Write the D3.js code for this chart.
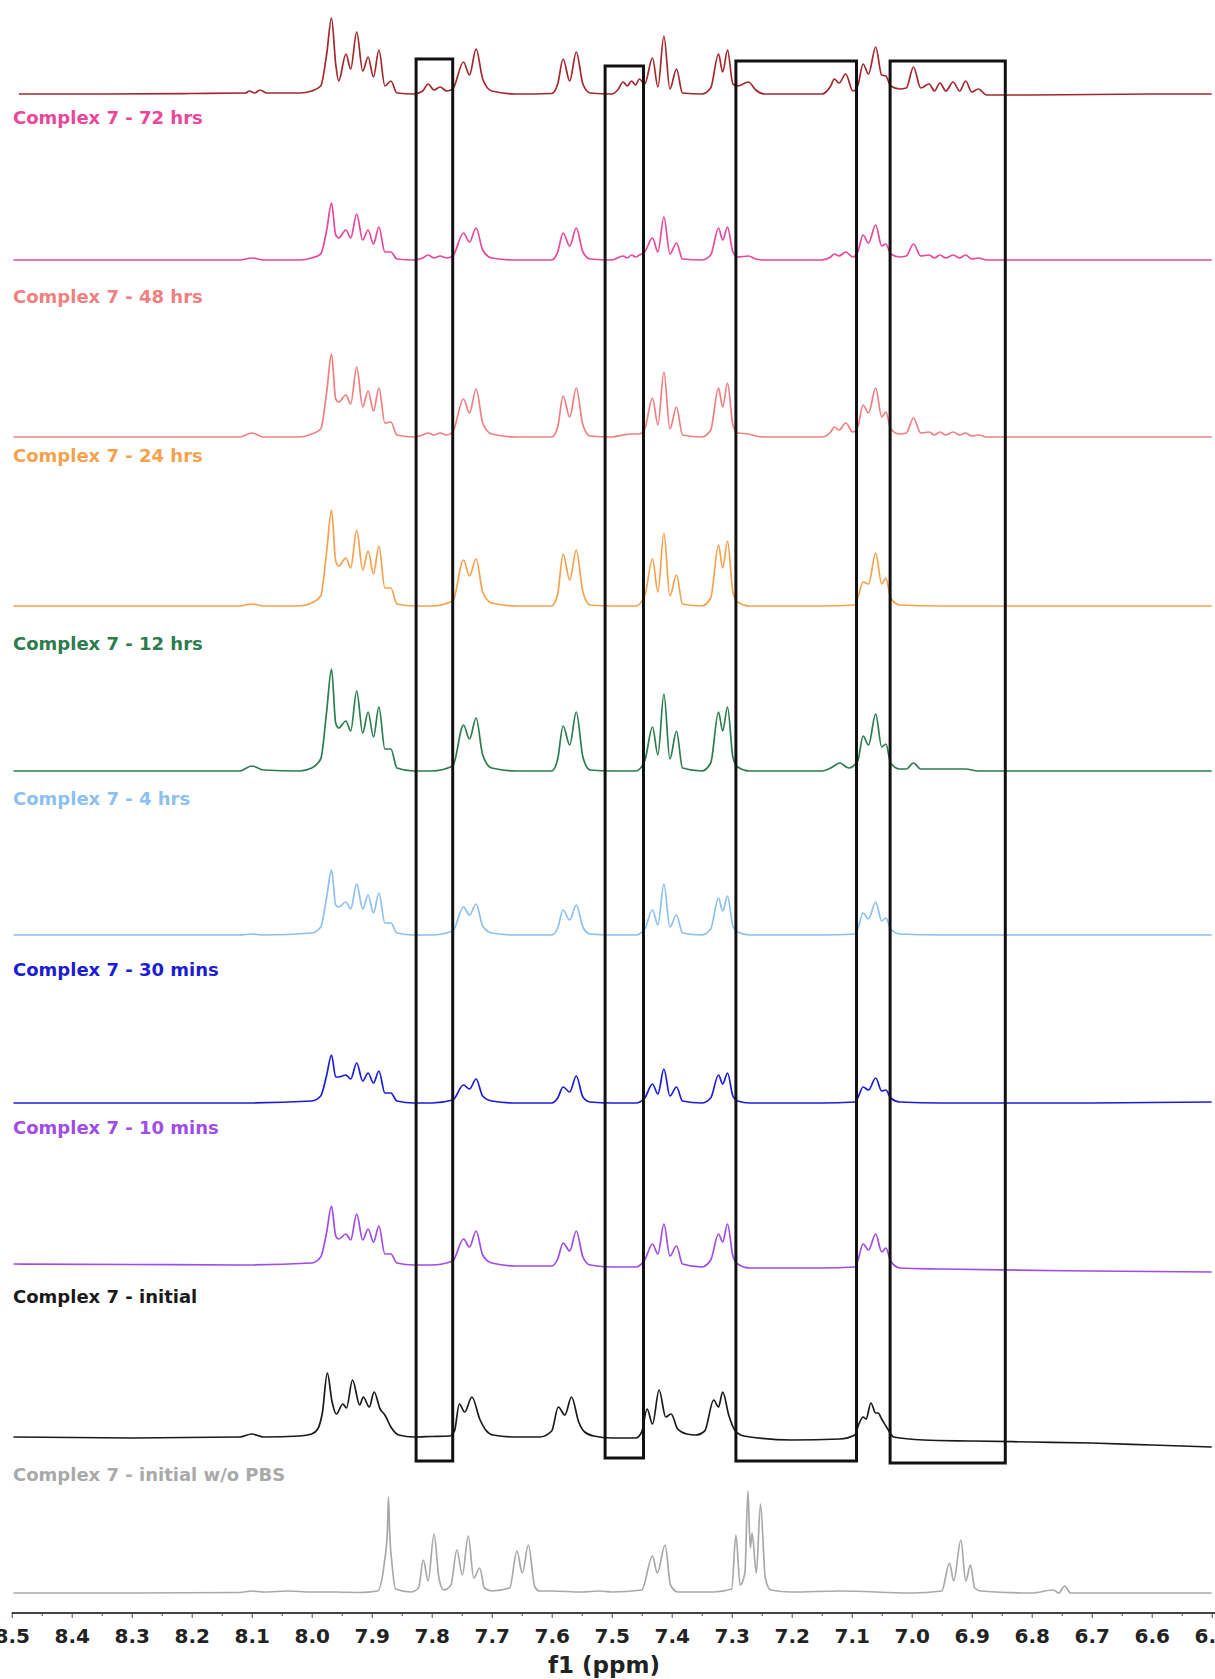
<!DOCTYPE html>
<html>
<head>
<meta charset="utf-8">
<script src="https://cdnjs.cloudflare.com/ajax/libs/d3/7.8.5/d3.min.js"></script>
<style>
  body { margin: 0; background: #fff; }
  svg { display: block; }
</style>
</head>
<body>
<div id="chart-area"></div>
<script>
// stacked 1H NMR spectra, aromatic region. each series = [ppm, intensity]

var specTop = [
  [8.488,0],[8.35,0],[8.2,0.5],[8.11,1],[8.104,3],[8.095,1],[8.086,4],[8.075,1],[8.02,1],[8.0,3],
  [7.985,8],[7.975,40],[7.967,76],[7.96,30],[7.955,13],[7.943,40],[7.935,25],[7.925,62],[7.915,23],
  [7.906,37],[7.897,17],[7.888,44],[7.878,8],[7.868,13],[7.858,1],[7.83,0],[7.815,3],[7.806,10],
  [7.796,4],[7.786,7],[7.775,3],[7.765,5],[7.747,32],[7.737,19],[7.726,45],[7.715,15],[7.70,3],
  [7.66,0],[7.60,0.5],[7.59,10],[7.581,35],[7.57,13],[7.559,42],[7.548,10],[7.536,1],[7.50,0],
  [7.49,4],[7.481,12],[7.474,8],[7.467,13],[7.46,9],[7.454,15],[7.445,10],[7.432,36],[7.423,7],
  [7.413,58],[7.403,5],[7.392,25],[7.382,1],[7.35,0],[7.335,6],[7.322,40],[7.315,22],[7.307,44],
  [7.298,10],[7.29,8],[7.272,12],[7.26,4],[7.245,0],[7.15,0],[7.135,8],[7.129,15],[7.121,11],
  [7.11,20],[7.098,3],[7.09,8],[7.081,30],[7.072,20],[7.06,47],[7.05,19],[7.043,18],[7.035,8],
  [7.02,5],[7.009,6],[6.997,27],[6.985,6],[6.971,10],[6.962,3],[6.953,11],[6.943,3],[6.931,12],
  [6.92,3],[6.91,13],[6.9,2],[6.889,5],[6.875,-1],[6.8,-1],[6.6,0],[6.5,0]
];

var spec72h = [
  [8.497,0],[8.3,0],[8.12,0],[8.10,2],[8.08,0],[8.02,0],[8.0,2],[7.985,6],[7.975,30],[7.967,57],
  [7.96,25],[7.955,22],[7.943,30],[7.935,22],[7.925,46],[7.915,20],[7.906,30],[7.897,16],
  [7.888,33],[7.878,8],[7.868,8],[7.858,1],[7.83,0],[7.815,2],[7.806,5],[7.796,2],[7.786,4],
  [7.775,2],[7.765,4],[7.747,27],[7.737,18],[7.726,32],[7.715,10],[7.70,2],[7.66,0],[7.60,0],
  [7.59,8],[7.581,27],[7.57,14],[7.559,32],[7.548,8],[7.536,1],[7.50,0],[7.481,4],[7.474,2],
  [7.467,5],[7.46,3],[7.454,5],[7.445,8],[7.432,22],[7.423,8],[7.413,43],[7.403,6],[7.392,17],
  [7.382,1],[7.35,0],[7.335,5],[7.322,32],[7.315,20],[7.307,33],[7.298,8],[7.29,3],[7.272,4],
  [7.26,1],[7.245,0],[7.15,0],[7.135,3],[7.129,6],[7.121,4],[7.11,8],[7.098,3],[7.09,8],
  [7.081,25],[7.072,17],[7.06,35],[7.05,14],[7.043,16],[7.035,6],[7.02,3],[7.009,4],[6.997,16],
  [6.985,4],[6.971,5],[6.962,2],[6.953,5],[6.943,2],[6.931,5],[6.92,2],[6.91,5],[6.9,1],
  [6.889,2],[6.875,0],[6.7,0],[6.5,0]
];

var spec48h = [
  [8.497,0],[8.3,0],[8.12,0],[8.10,4],[8.08,0],[8.02,0],[8.0,3],[7.985,8],[7.975,45],[7.967,83],
  [7.96,38],[7.955,35],[7.943,42],[7.935,33],[7.925,70],[7.915,30],[7.906,46],[7.897,26],
  [7.888,49],[7.878,14],[7.868,15],[7.858,2],[7.83,0],[7.815,2],[7.806,4],[7.796,2],[7.786,4],
  [7.775,2],[7.765,5],[7.747,38],[7.737,24],[7.726,48],[7.715,14],[7.70,3],[7.66,0],[7.60,0],
  [7.59,10],[7.581,41],[7.57,20],[7.559,49],[7.548,12],[7.536,1],[7.50,0],[7.481,2],[7.467,3],
  [7.454,3],[7.445,8],[7.432,39],[7.423,12],[7.413,65],[7.403,8],[7.392,30],[7.382,2],[7.35,0],
  [7.335,7],[7.322,49],[7.315,30],[7.307,54],[7.298,12],[7.29,4],[7.272,3],[7.26,1],[7.245,0],
  [7.15,0],[7.135,5],[7.129,10],[7.121,7],[7.11,14],[7.098,5],[7.09,10],[7.081,32],[7.072,24],
  [7.06,49],[7.05,20],[7.043,25],[7.035,8],[7.02,3],[7.009,4],[6.997,19],[6.985,4],[6.971,5],
  [6.962,2],[6.953,5],[6.943,2],[6.931,5],[6.92,2],[6.91,4],[6.9,1],[6.889,2],[6.875,0],
  [6.7,0],[6.5,0]
];

var spec24h = [
  [8.497,0],[8.3,0],[8.12,0],[8.10,2],[8.08,0],[8.02,0],[8.0,3],[7.985,10],[7.975,55],[7.967,96],
  [7.96,45],[7.955,40],[7.943,48],[7.935,38],[7.925,76],[7.915,36],[7.906,55],[7.897,32],
  [7.888,60],[7.878,18],[7.868,18],[7.858,2],[7.83,0],[7.80,0],[7.765,5],[7.747,46],[7.737,30],
  [7.726,47],[7.715,14],[7.70,3],[7.66,0],[7.60,0],[7.59,12],[7.581,52],[7.57,26],[7.559,56],
  [7.548,14],[7.536,1],[7.50,0],[7.46,0],[7.445,10],[7.432,47],[7.423,14],[7.413,73],[7.403,10],
  [7.392,31],[7.382,2],[7.35,0],[7.335,8],[7.322,61],[7.315,38],[7.307,65],[7.298,14],[7.29,4],
  [7.27,0],[7.15,0],[7.095,1],[7.09,8],[7.081,24],[7.072,22],[7.06,53],[7.05,22],[7.043,28],
  [7.035,8],[7.02,1],[6.95,0],[6.7,0],[6.5,0]
];

var spec12h = [
  [8.497,0],[8.3,0],[8.12,0],[8.10,5],[8.08,1],[8.02,0],[8.0,3],[7.985,12],[7.975,60],[7.967,102],
  [7.96,48],[7.955,43],[7.943,50],[7.935,40],[7.925,80],[7.915,38],[7.906,59],[7.897,34],
  [7.888,64],[7.878,22],[7.868,22],[7.858,3],[7.83,0],[7.80,0],[7.765,5],[7.747,46],[7.737,32],
  [7.726,53],[7.715,16],[7.70,3],[7.66,0],[7.60,0],[7.59,12],[7.581,45],[7.57,26],[7.559,59],
  [7.548,14],[7.536,1],[7.50,0],[7.46,0],[7.445,10],[7.432,44],[7.423,16],[7.413,77],[7.403,12],
  [7.392,40],[7.382,3],[7.35,0],[7.335,8],[7.322,59],[7.315,40],[7.307,64],[7.298,14],[7.29,4],
  [7.27,0],[7.15,0],[7.135,3],[7.12,8],[7.105,3],[7.09,10],[7.081,35],[7.072,26],[7.06,57],
  [7.05,24],[7.043,27],[7.035,8],[7.02,2],[7.009,2],[6.997,8],[6.985,2],[6.953,2],[6.931,2],
  [6.91,2],[6.89,0],[6.7,0],[6.5,0]
];

var spec4h = [
  [8.497,0],[8.3,0],[8.12,0],[8.10,1],[8.08,0],[8.0,2],[7.985,8],[7.975,38],[7.967,65],[7.96,30],
  [7.955,28],[7.943,33],[7.935,26],[7.925,51],[7.915,26],[7.906,40],[7.897,22],[7.888,42],
  [7.878,12],[7.868,12],[7.858,2],[7.83,0],[7.80,0],[7.765,4],[7.747,28],[7.737,20],[7.726,31],
  [7.715,9],[7.70,2],[7.66,0],[7.60,0],[7.59,7],[7.581,25],[7.57,15],[7.559,30],[7.548,8],
  [7.536,1],[7.50,0],[7.46,0],[7.445,6],[7.432,25],[7.423,10],[7.413,51],[7.403,8],[7.392,20],
  [7.382,2],[7.35,0],[7.335,6],[7.322,37],[7.315,24],[7.307,39],[7.298,9],[7.29,3],[7.27,0],
  [7.15,0],[7.095,1],[7.09,6],[7.081,22],[7.072,16],[7.06,33],[7.05,14],[7.043,17],[7.035,6],
  [7.02,1],[6.95,0],[6.7,0],[6.5,0]
];

var spec30m = [
  [8.497,0],[8.3,0],[8.12,0],[8.0,2],[7.985,7],[7.975,28],[7.967,48],[7.96,26],[7.955,26],
  [7.943,28],[7.935,24],[7.925,40],[7.915,22],[7.906,30],[7.897,20],[7.888,32],[7.878,10],
  [7.868,10],[7.858,2],[7.83,0],[7.80,0],[7.765,3],[7.747,18],[7.737,14],[7.726,24],[7.715,7],
  [7.70,2],[7.66,0],[7.60,0],[7.59,5],[7.581,16],[7.57,11],[7.559,27],[7.548,6],[7.536,1],
  [7.50,0],[7.46,0],[7.445,5],[7.432,19],[7.423,9],[7.413,34],[7.403,7],[7.392,16],[7.382,2],
  [7.35,0],[7.335,5],[7.322,28],[7.315,19],[7.307,30],[7.298,7],[7.29,2],[7.27,0],[7.15,0],
  [7.095,1],[7.09,5],[7.081,16],[7.072,13],[7.06,25],[7.05,12],[7.043,13],[7.035,5],[7.02,1],
  [6.95,0],[6.7,0],[6.5,1]
];

var spec10m = [
  [8.497,0],[8.3,-0.5],[8.12,-1],[8.0,1],[7.985,7],[7.975,32],[7.967,58],[7.96,28],[7.955,25],
  [7.943,30],[7.935,24],[7.925,50],[7.915,24],[7.906,35],[7.897,22],[7.888,38],[7.878,10],
  [7.868,10],[7.858,1],[7.83,-1],[7.80,-1],[7.765,3],[7.747,25],[7.737,17],[7.726,33],
  [7.715,9],[7.70,1],[7.66,-2],[7.60,-2],[7.59,5],[7.581,21],[7.57,13],[7.559,33],[7.548,7],
  [7.536,-1],[7.50,-3],[7.46,-3],[7.445,4],[7.432,20],[7.423,10],[7.413,40],[7.403,8],
  [7.392,18],[7.382,0],[7.35,-3],[7.335,4],[7.322,30],[7.315,22],[7.307,40],[7.298,8],[7.29,0],
  [7.27,-4],[7.15,-4],[7.095,-3],[7.09,3],[7.081,20],[7.072,14],[7.06,30],[7.05,12],[7.043,16],
  [7.035,3],[7.02,-4],[6.95,-5],[6.7,-7],[6.5,-8]
];

var specInitial = [
  [8.497,0],[8.30,-1],[8.12,0],[8.10,3],[8.08,0],[8.02,1],[8.00,3],[7.99,8],[7.982,25],
  [7.974,64],[7.966,35],[7.959,23],[7.948,33],[7.942,29],[7.932,57],[7.92,32],[7.914,40],
  [7.904,30],[7.896,45],[7.886,28],[7.878,22],[7.868,10],[7.855,2],[7.83,0],[7.80,0.5],
  [7.77,1],[7.762,6],[7.754,33],[7.745,25],[7.733,40],[7.72,18],[7.71,7],[7.698,2],[7.66,0],
  [7.62,0],[7.60,6],[7.589,30],[7.578,22],[7.567,40],[7.555,15],[7.545,5],[7.53,1],[7.50,-1],
  [7.46,-1],[7.45,5],[7.441,28],[7.432,13],[7.421,47],[7.41,20],[7.401,23],[7.39,8],[7.375,3],
  [7.36,2],[7.345,6],[7.33,37],[7.322,30],[7.315,45],[7.305,22],[7.295,7],[7.28,1],[7.2,-3],
  [7.12,-2],[7.095,2],[7.088,13],[7.081,20],[7.076,18],[7.068,34],[7.06,24],[7.056,24],
  [7.05,18],[7.04,8],[7.03,0],[6.98,-3],[6.90,-4],[6.80,-5],[6.70,-6],[6.60,-8],[6.50,-10]
];

var specNoPBS = [
  [8.497,0],[8.3,0],[8.12,0.5],[8.10,2],[8.08,1],[8.04,2],[8.0,1],[7.96,1],[7.92,0.5],[7.89,2],
  [7.879,30],[7.874,60],[7.872,96],[7.870,60],[7.866,28],[7.86,4],[7.835,1],[7.822,5],[7.814,33],
  [7.806,12],[7.796,59],[7.788,15],[7.78,3],[7.768,8],[7.758,43],[7.749,18],[7.739,57],[7.73,15],
  [7.72,25],[7.712,5],[7.70,2],[7.67,5],[7.658,42],[7.649,20],[7.639,48],[7.628,6],[7.62,2],
  [7.6,2],[7.55,1],[7.52,2],[7.50,1],[7.45,3],[7.432,37],[7.424,20],[7.411,48],[7.402,8],
  [7.39,1],[7.33,1],[7.30,4],[7.293,58],[7.286,8],[7.278,20],[7.273,102],[7.269,45],[7.266,60],
  [7.259,20],[7.252,89],[7.244,15],[7.235,3],[7.2,1],[7.12,2],[7.0,0],[6.95,2],[6.937,30],
  [6.93,12],[6.918,53],[6.91,12],[6.902,28],[6.895,5],[6.885,2],[6.8,0],[6.764,3],[6.755,0],
  [6.745,7],[6.735,0],[6.6,0],[6.5,0]
];

var seriesData = [specTop, spec72h, spec48h, spec24h, spec12h, spec4h, spec30m, spec10m, specInitial, specNoPBS];
var seriesLabels = ["", "Complex 7 - 72 hrs", "Complex 7 - 48 hrs", "Complex 7 - 24 hrs",
  "Complex 7 - 12 hrs", "Complex 7 - 4 hrs", "Complex 7 - 30 mins", "Complex 7 - 10 mins",
  "Complex 7 - initial", "Complex 7 - initial w/o PBS"];

// highlighted regions, in ppm
var boxRanges = [[7.826, 7.765], [7.511, 7.447], [7.293, 7.092], [7.036, 6.844]];

var majorTicks = d3.range(85, 64, -1).map(function(d){ return d / 10; });
var minorTicks = d3.range(845, 650, -10).map(function(d){ return d / 100; });

// ---- layout / style ----
var width = 1215, height = 1679;
var baselines = [94, 260, 437, 606, 771, 935, 1103, 1264, 1437, 1593];
var labelY = [null, 118, 297, 456, 644, 799, 970, 1128, 1297, 1475];
var colors = ["#a3282d", "#e8479b", "#f07f80", "#f5a24e", "#2c7c4e", "#8cc0f0", "#1c1cd4", "#a04ce6", "#1a1a1a", "#a9a9a9"];
var boxTop = [59, 66, 61, 61], boxBottom = [1461, 1458, 1461, 1463];
var axisY = 1613;

var svg = d3.select("#chart-area").append("svg")
    .attr("width", width)
    .attr("height", height);

var x = d3.scaleLinear().domain([8.5, 6.5]).range([11.7, 1211.7]);
var y = d3.scaleLinear().domain([0, 100]).range([0, -100]);

var line = d3.line()
    .x(function(d){ return x(d[0]); })
    .y(function(d){ return y(d[1]); })
    .curve(d3.curveMonotoneX);

var spectra = svg.selectAll("g.spectrum")
    .data(seriesData)
    .enter()
    .append("g")
      .attr("class", "spectrum")
      .attr("transform", function(d, i){ return "translate(0," + baselines[i] + ")"; });

spectra.append("path")
    .attr("d", line)
    .attr("fill", "none")
    .attr("stroke", function(d, i){ return colors[i]; })
    .attr("stroke-width", 1.7)
    .attr("stroke-linejoin", "round");

svg.selectAll("text.label")
    .data(seriesLabels.filter(function(l){ return l !== ""; }))
    .enter()
    .append("text")
      .attr("class", "label")
      .attr("x", 13)
      .attr("y", function(d, i){ return labelY[i + 1] + 6; })
      .attr("fill", function(d, i){ return colors[i + 1]; })
      .attr("font-family", "'DejaVu Sans', Verdana, sans-serif")
      .attr("font-weight", "bold")
      .attr("font-size", "18px")
      .text(function(d){ return d; });

svg.selectAll("rect.box")
    .data(boxRanges)
    .enter()
    .append("rect")
      .attr("class", "box")
      .attr("x", function(d){ return x(d[0]); })
      .attr("width", function(d){ return x(d[1]) - x(d[0]); })
      .attr("y", function(d, i){ return boxTop[i]; })
      .attr("height", function(d, i){ return boxBottom[i] - boxTop[i]; })
      .attr("fill", "none")
      .attr("stroke", "#111")
      .attr("stroke-width", 3);

// axis
var axisG = svg.append("g").attr("transform", "translate(0," + axisY + ")");

axisG.append("g")
    .call(d3.axisBottom(x).tickValues(minorTicks).tickSize(3).tickFormat(""))
    .call(function(g){ g.select(".domain").remove(); })
    .selectAll("line").attr("stroke", "#444");

var mainAxis = axisG.append("g")
    .call(d3.axisBottom(x).tickValues(majorTicks).tickSize(5).tickPadding(11)
        .tickFormat(d3.format(".1f")));

mainAxis.select(".domain")
    .attr("d", "M" + x(8.5) + ",0H" + width)
    .attr("stroke", "#444")
    .attr("stroke-width", 2);
mainAxis.selectAll("line").attr("stroke", "#444");
mainAxis.selectAll("text")
    .attr("font-family", "'DejaVu Sans', Verdana, sans-serif")
    .attr("font-weight", "bold")
    .attr("font-size", "20px")
    .attr("fill", "#222");

svg.append("text")
    .attr("x", 604)
    .attr("y", 1673)
    .attr("text-anchor", "middle")
    .attr("font-family", "'DejaVu Sans', Verdana, sans-serif")
    .attr("font-weight", "bold")
    .attr("font-size", "23px")
    .attr("fill", "#222")
    .text("f1 (ppm)");
</script>
</body>
</html>
